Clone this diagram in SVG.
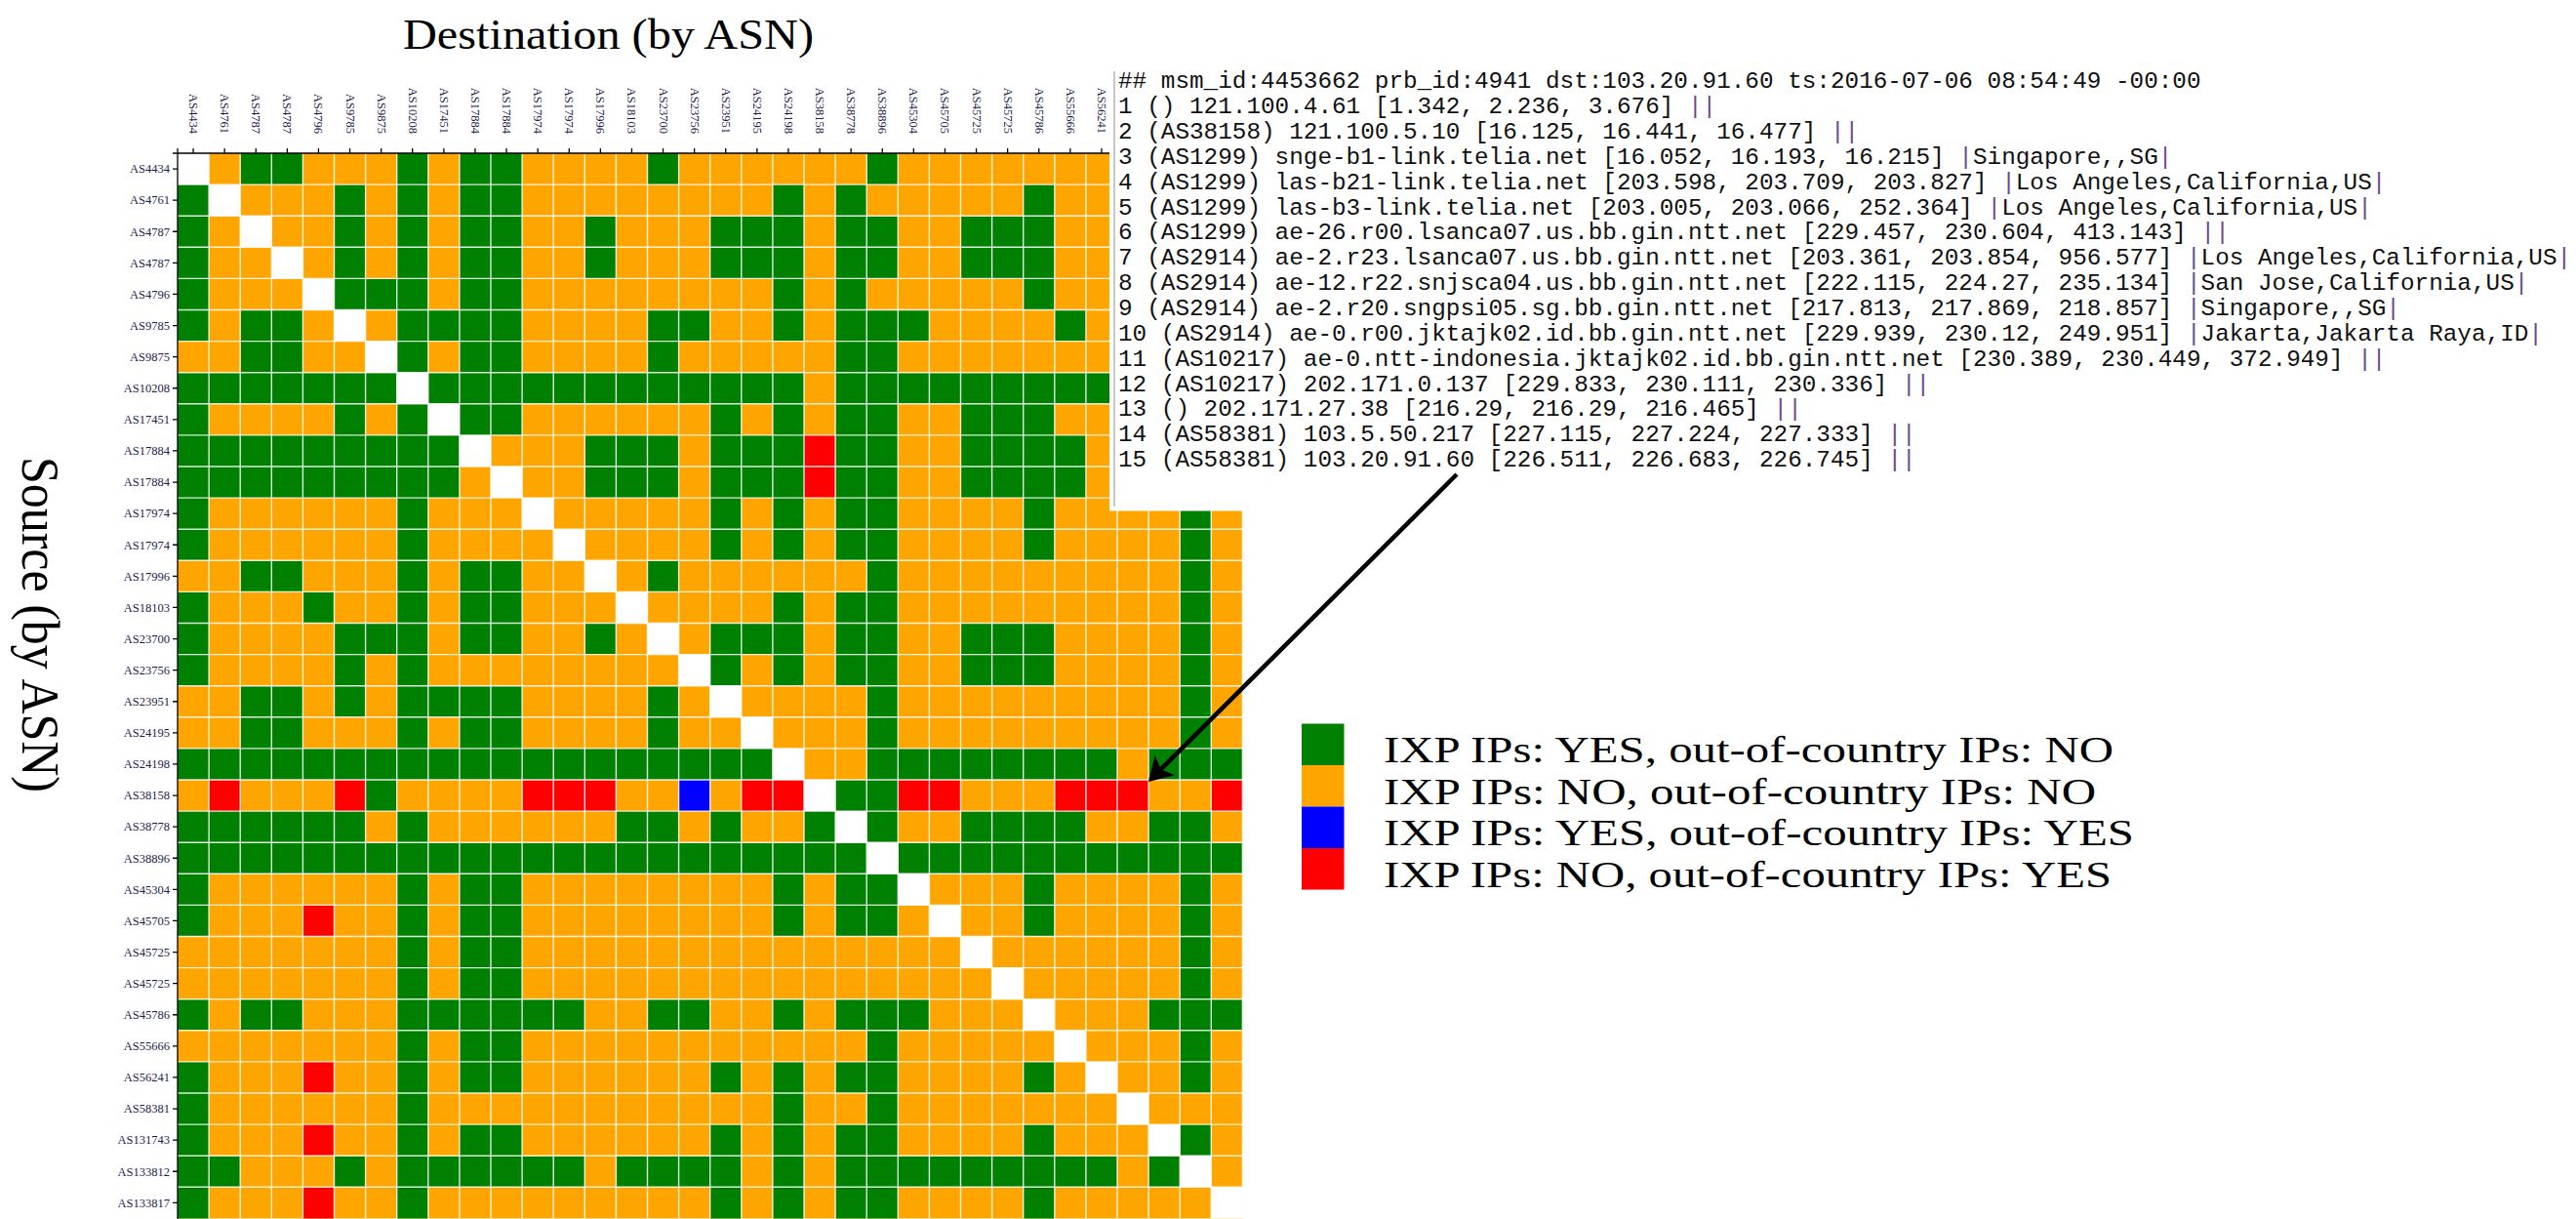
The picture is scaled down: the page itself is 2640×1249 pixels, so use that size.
<svg xmlns="http://www.w3.org/2000/svg" width="2640" height="1249" viewBox="0 0 2640 1249">
<style>
.title{font-family:"Liberation Serif","Times New Roman",serif;fill:#000}
.lab{font-family:"Liberation Serif","Times New Roman",serif;font-size:12.5px;fill:#1e1e50}
.mono{font-family:"Liberation Mono","Courier New",monospace;font-size:24.33px;fill:#111}
.bar{fill:#6b4a8e}
.leg{font-family:"Liberation Serif","Times New Roman",serif;font-size:38.4px;fill:#000}
.ax{fill:none;stroke:#000;stroke-width:1.3}
</style>
<defs>
<marker id="ah" markerUnits="userSpaceOnUse" viewBox="0 0 24 29" markerWidth="24" markerHeight="29" refX="9" refY="14.5" orient="auto">
<path d="M0,0 L24,14.5 L0,29 L6,14.5 z" fill="#000"/>
</marker>
</defs>
<rect width="2640" height="1249" fill="#fff"/>

<g id="title-destination"><text class="title" x="413" y="50" font-size="45" textLength="421" lengthAdjust="spacingAndGlyphs">Destination (by ASN)</text></g>
<g id="title-source"><text class="title" transform="translate(23,468) rotate(90)" font-size="55" textLength="344" lengthAdjust="spacingAndGlyphs">Source (by ASN)</text></g>

<g id="cells" transform="translate(182,157) scale(32.1)">
<rect width="34" height="34" fill="#FFA500"/>
<path fill="#008000" d="M2 0h2v1h-2zM7 0h1v1h-1zM9 0h2v1h-2zM15 0h1v1h-1zM22 0h1v1h-1z
M0 1h1v1h-1zM5 1h1v1h-1zM7 1h1v1h-1zM9 1h2v1h-2zM19 1h1v1h-1zM21 1h1v1h-1zM27 1h1v1h-1z
M0 2h1v1h-1zM5 2h1v1h-1zM7 2h1v1h-1zM9 2h2v1h-2zM13 2h1v1h-1zM17 2h3v1h-3zM21 2h2v1h-2zM25 2h3v1h-3z
M0 3h1v1h-1zM5 3h1v1h-1zM7 3h1v1h-1zM9 3h2v1h-2zM13 3h1v1h-1zM17 3h3v1h-3zM21 3h2v1h-2zM25 3h3v1h-3z
M0 4h1v1h-1zM5 4h3v1h-3zM9 4h2v1h-2zM19 4h1v1h-1zM21 4h1v1h-1zM27 4h1v1h-1z
M0 5h1v1h-1zM2 5h2v1h-2zM7 5h4v1h-4zM15 5h2v1h-2zM19 5h1v1h-1zM21 5h3v1h-3zM28 5h1v1h-1z
M2 6h2v1h-2zM7 6h1v1h-1zM9 6h2v1h-2zM15 6h1v1h-1zM21 6h2v1h-2z
M0 7h7v1h-7zM8 7h12v1h-12zM21 7h13v1h-13z
M0 8h1v1h-1zM5 8h1v1h-1zM7 8h1v1h-1zM9 8h2v1h-2zM17 8h1v1h-1zM19 8h1v1h-1zM21 8h2v1h-2zM25 8h3v1h-3z
M0 9h9v1h-9zM13 9h3v1h-3zM17 9h3v1h-3zM21 9h2v1h-2zM25 9h4v1h-4z
M0 10h9v1h-9zM13 10h3v1h-3zM17 10h3v1h-3zM21 10h2v1h-2zM25 10h4v1h-4z
M0 11h1v1h-1zM7 11h1v1h-1zM17 11h1v1h-1zM19 11h1v1h-1zM21 11h2v1h-2zM27 11h1v1h-1zM32 11h1v1h-1z
M0 12h1v1h-1zM7 12h1v1h-1zM17 12h1v1h-1zM19 12h1v1h-1zM21 12h2v1h-2zM27 12h1v1h-1zM32 12h1v1h-1z
M2 13h2v1h-2zM7 13h1v1h-1zM9 13h2v1h-2zM15 13h1v1h-1zM22 13h1v1h-1zM32 13h1v1h-1z
M0 14h1v1h-1zM4 14h1v1h-1zM7 14h1v1h-1zM9 14h2v1h-2zM19 14h1v1h-1zM21 14h2v1h-2zM32 14h1v1h-1z
M0 15h1v1h-1zM5 15h3v1h-3zM9 15h2v1h-2zM13 15h1v1h-1zM17 15h3v1h-3zM21 15h2v1h-2zM25 15h3v1h-3zM32 15h1v1h-1z
M0 16h1v1h-1zM5 16h1v1h-1zM7 16h1v1h-1zM17 16h1v1h-1zM19 16h1v1h-1zM21 16h2v1h-2zM25 16h3v1h-3zM32 16h1v1h-1z
M2 17h2v1h-2zM5 17h1v1h-1zM7 17h4v1h-4zM15 17h1v1h-1zM22 17h1v1h-1zM32 17h1v1h-1z
M2 18h2v1h-2zM7 18h1v1h-1zM9 18h2v1h-2zM15 18h1v1h-1zM22 18h1v1h-1zM32 18h1v1h-1z
M0 19h19v1h-19zM22 19h8v1h-8zM31 19h3v1h-3z
M6 20h1v1h-1zM21 20h2v1h-2z
M0 21h6v1h-6zM7 21h1v1h-1zM14 21h2v1h-2zM17 21h1v1h-1zM20 21h1v1h-1zM22 21h1v1h-1zM25 21h4v1h-4zM31 21h2v1h-2z
M0 22h22v1h-22zM23 22h11v1h-11z
M0 23h1v1h-1zM7 23h1v1h-1zM9 23h2v1h-2zM19 23h1v1h-1zM21 23h2v1h-2zM27 23h1v1h-1zM32 23h1v1h-1z
M0 24h1v1h-1zM7 24h1v1h-1zM9 24h2v1h-2zM19 24h1v1h-1zM21 24h2v1h-2zM27 24h1v1h-1zM32 24h1v1h-1z
M7 25h1v1h-1zM9 25h2v1h-2zM32 25h1v1h-1z
M7 26h1v1h-1zM9 26h2v1h-2zM32 26h1v1h-1z
M0 27h1v1h-1zM2 27h2v1h-2zM7 27h6v1h-6zM15 27h2v1h-2zM19 27h1v1h-1zM21 27h3v1h-3zM31 27h3v1h-3z
M7 28h1v1h-1zM9 28h2v1h-2zM22 28h1v1h-1zM32 28h1v1h-1z
M0 29h1v1h-1zM7 29h1v1h-1zM9 29h2v1h-2zM17 29h1v1h-1zM19 29h1v1h-1zM21 29h2v1h-2zM27 29h1v1h-1zM32 29h1v1h-1z
M0 30h1v1h-1zM7 30h1v1h-1zM19 30h1v1h-1zM22 30h1v1h-1z
M0 31h1v1h-1zM7 31h1v1h-1zM9 31h2v1h-2zM17 31h1v1h-1zM19 31h1v1h-1zM21 31h2v1h-2zM27 31h1v1h-1zM32 31h1v1h-1z
M0 32h2v1h-2zM5 32h1v1h-1zM7 32h6v1h-6zM14 32h4v1h-4zM19 32h1v1h-1zM21 32h9v1h-9zM31 32h1v1h-1z
M0 33h1v1h-1zM7 33h1v1h-1zM17 33h1v1h-1zM19 33h1v1h-1zM21 33h2v1h-2zM27 33h1v1h-1z"/>
<path fill="#FF0000" d="M20 9h1v1h-1zM20 10h1v1h-1zM1 20h1v1h-1zM5 20h1v1h-1zM11 20h3v1h-3zM18 20h2v1h-2zM23 20h2v1h-2zM28 20h3v1h-3zM33 20h1v1h-1zM4 24h1v1h-1zM4 29h1v1h-1zM4 31h1v1h-1zM4 33h1v1h-1z"/>
<path fill="#0000FF" d="M16 20h1v1h-1z"/>
<path fill="#FFFFFF" d="M0 0h1v1h-1zM1 1h1v1h-1zM2 2h1v1h-1zM3 3h1v1h-1zM4 4h1v1h-1zM5 5h1v1h-1zM6 6h1v1h-1zM7 7h1v1h-1zM8 8h1v1h-1zM9 9h1v1h-1zM10 10h1v1h-1zM11 11h1v1h-1zM12 12h1v1h-1zM13 13h1v1h-1zM14 14h1v1h-1zM15 15h1v1h-1zM16 16h1v1h-1zM17 17h1v1h-1zM18 18h1v1h-1zM19 19h1v1h-1zM20 20h1v1h-1zM21 21h1v1h-1zM22 22h1v1h-1zM23 23h1v1h-1zM24 24h1v1h-1zM25 25h1v1h-1zM26 26h1v1h-1zM27 27h1v1h-1zM28 28h1v1h-1zM29 29h1v1h-1zM30 30h1v1h-1zM31 31h1v1h-1zM32 32h1v1h-1zM33 33h1v1h-1z"/>
<path fill="none" stroke="#fff" stroke-opacity="0.85" stroke-width="1.4" vector-effect="non-scaling-stroke" d="M1 0V34M2 0V34M3 0V34M4 0V34M5 0V34M6 0V34M7 0V34M8 0V34M9 0V34M10 0V34M11 0V34M12 0V34M13 0V34M14 0V34M15 0V34M16 0V34M17 0V34M18 0V34M19 0V34M20 0V34M21 0V34M22 0V34M23 0V34M24 0V34M25 0V34M26 0V34M27 0V34M28 0V34M29 0V34M30 0V34M31 0V34M32 0V34M33 0V34M34 0V34M0 1H34M0 2H34M0 3H34M0 4H34M0 5H34M0 6H34M0 7H34M0 8H34M0 9H34M0 10H34M0 11H34M0 12H34M0 13H34M0 14H34M0 15H34M0 16H34M0 17H34M0 18H34M0 19H34M0 20H34M0 21H34M0 22H34M0 23H34M0 24H34M0 25H34M0 26H34M0 27H34M0 28H34M0 29H34M0 30H34M0 31H34M0 32H34M0 33H34"/>
</g>

<g id="axes" transform="translate(182,157)">
<path class="ax" d="M-5 0H0V1095M0 -5V0H1092"/>
<path class="ax" d="M-5 16.05H0M-5 48.15H0M-5 80.25H0M-5 112.35H0M-5 144.45H0M-5 176.55H0M-5 208.65H0M-5 240.75H0M-5 272.85H0M-5 304.95H0M-5 337.05H0M-5 369.15H0M-5 401.25H0M-5 433.35H0M-5 465.45H0M-5 497.55H0M-5 529.65H0M-5 561.75H0M-5 593.85H0M-5 625.95H0M-5 658.05H0M-5 690.15H0M-5 722.25H0M-5 754.35H0M-5 786.45H0M-5 818.55H0M-5 850.65H0M-5 882.75H0M-5 914.85H0M-5 946.95H0M-5 979.05H0M-5 1011.15H0M-5 1043.25H0M-5 1075.35H0
M16.05 -5V0M48.15 -5V0M80.25 -5V0M112.35 -5V0M144.45 -5V0M176.55 -5V0M208.65 -5V0M240.75 -5V0M272.85 -5V0M304.95 -5V0M337.05 -5V0M369.15 -5V0M401.25 -5V0M433.35 -5V0M465.45 -5V0M497.55 -5V0M529.65 -5V0M561.75 -5V0M593.85 -5V0M625.95 -5V0M658.05 -5V0M690.15 -5V0M722.25 -5V0M754.35 -5V0M786.45 -5V0M818.55 -5V0M850.65 -5V0M882.75 -5V0M914.85 -5V0M946.95 -5V0"/>
</g>

<g id="row-labels" class="lab" text-anchor="end" transform="translate(182,157)">
<text x="-8" y="20.35">AS4434</text>
<text x="-8" y="52.45">AS4761</text>
<text x="-8" y="84.55">AS4787</text>
<text x="-8" y="116.65">AS4787</text>
<text x="-8" y="148.75">AS4796</text>
<text x="-8" y="180.85">AS9785</text>
<text x="-8" y="212.95">AS9875</text>
<text x="-8" y="245.05">AS10208</text>
<text x="-8" y="277.15">AS17451</text>
<text x="-8" y="309.25">AS17884</text>
<text x="-8" y="341.35">AS17884</text>
<text x="-8" y="373.45">AS17974</text>
<text x="-8" y="405.55">AS17974</text>
<text x="-8" y="437.65">AS17996</text>
<text x="-8" y="469.75">AS18103</text>
<text x="-8" y="501.85">AS23700</text>
<text x="-8" y="533.95">AS23756</text>
<text x="-8" y="566.05">AS23951</text>
<text x="-8" y="598.15">AS24195</text>
<text x="-8" y="630.25">AS24198</text>
<text x="-8" y="662.35">AS38158</text>
<text x="-8" y="694.45">AS38778</text>
<text x="-8" y="726.55">AS38896</text>
<text x="-8" y="758.65">AS45304</text>
<text x="-8" y="790.75">AS45705</text>
<text x="-8" y="822.85">AS45725</text>
<text x="-8" y="854.95">AS45725</text>
<text x="-8" y="887.05">AS45786</text>
<text x="-8" y="919.15">AS55666</text>
<text x="-8" y="951.25">AS56241</text>
<text x="-8" y="983.35">AS58381</text>
<text x="-8" y="1015.45">AS131743</text>
<text x="-8" y="1047.55">AS133812</text>
<text x="-8" y="1079.65">AS133817</text>
</g>

<g id="col-labels" class="lab" text-anchor="end" transform="translate(182,157)">
<text transform="translate(12.05,-20) rotate(90)">AS4434</text>
<text transform="translate(44.15,-20) rotate(90)">AS4761</text>
<text transform="translate(76.25,-20) rotate(90)">AS4787</text>
<text transform="translate(108.35,-20) rotate(90)">AS4787</text>
<text transform="translate(140.45,-20) rotate(90)">AS4796</text>
<text transform="translate(172.55,-20) rotate(90)">AS9785</text>
<text transform="translate(204.65,-20) rotate(90)">AS9875</text>
<text transform="translate(236.75,-20) rotate(90)">AS10208</text>
<text transform="translate(268.85,-20) rotate(90)">AS17451</text>
<text transform="translate(300.95,-20) rotate(90)">AS17884</text>
<text transform="translate(333.05,-20) rotate(90)">AS17884</text>
<text transform="translate(365.15,-20) rotate(90)">AS17974</text>
<text transform="translate(397.25,-20) rotate(90)">AS17974</text>
<text transform="translate(429.35,-20) rotate(90)">AS17996</text>
<text transform="translate(461.45,-20) rotate(90)">AS18103</text>
<text transform="translate(493.55,-20) rotate(90)">AS23700</text>
<text transform="translate(525.65,-20) rotate(90)">AS23756</text>
<text transform="translate(557.75,-20) rotate(90)">AS23951</text>
<text transform="translate(589.85,-20) rotate(90)">AS24195</text>
<text transform="translate(621.95,-20) rotate(90)">AS24198</text>
<text transform="translate(654.05,-20) rotate(90)">AS38158</text>
<text transform="translate(686.15,-20) rotate(90)">AS38778</text>
<text transform="translate(718.25,-20) rotate(90)">AS38896</text>
<text transform="translate(750.35,-20) rotate(90)">AS45304</text>
<text transform="translate(782.45,-20) rotate(90)">AS45705</text>
<text transform="translate(814.55,-20) rotate(90)">AS45725</text>
<text transform="translate(846.65,-20) rotate(90)">AS45725</text>
<text transform="translate(878.75,-20) rotate(90)">AS45786</text>
<text transform="translate(910.85,-20) rotate(90)">AS55666</text>
<text transform="translate(942.95,-20) rotate(90)">AS56241</text>
</g>

<g id="traceroute-box">
<rect x="1137" y="72" width="1503" height="451.5" fill="#fff"/>
<line x1="1142" y1="73" x2="1142" y2="519" stroke="#c8c8c8" stroke-width="2"/>
<text class="mono" x="1146" y="90.3">## msm_id:4453662 prb_id:4941 dst:103.20.91.60 ts:2016-07-06 08:54:49 -00:00</text>
<text class="mono" x="1146" y="116.15">1 () 121.100.4.61 [1.342, 2.236, 3.676] <tspan class="bar">||</tspan></text>
<text class="mono" x="1146" y="142">2 (AS38158) 121.100.5.10 [16.125, 16.441, 16.477] <tspan class="bar">||</tspan></text>
<text class="mono" x="1146" y="167.85">3 (AS1299) snge-b1-link.telia.net [16.052, 16.193, 16.215] <tspan class="bar">|</tspan>Singapore,,SG<tspan class="bar">|</tspan></text>
<text class="mono" x="1146" y="193.7">4 (AS1299) las-b21-link.telia.net [203.598, 203.709, 203.827] <tspan class="bar">|</tspan>Los Angeles,California,US<tspan class="bar">|</tspan></text>
<text class="mono" x="1146" y="219.55">5 (AS1299) las-b3-link.telia.net [203.005, 203.066, 252.364] <tspan class="bar">|</tspan>Los Angeles,California,US<tspan class="bar">|</tspan></text>
<text class="mono" x="1146" y="245.4">6 (AS1299) ae-26.r00.lsanca07.us.bb.gin.ntt.net [229.457, 230.604, 413.143] <tspan class="bar">||</tspan></text>
<text class="mono" x="1146" y="271.25">7 (AS2914) ae-2.r23.lsanca07.us.bb.gin.ntt.net [203.361, 203.854, 956.577] <tspan class="bar">|</tspan>Los Angeles,California,US<tspan class="bar">|</tspan></text>
<text class="mono" x="1146" y="297.1">8 (AS2914) ae-12.r22.snjsca04.us.bb.gin.ntt.net [222.115, 224.27, 235.134] <tspan class="bar">|</tspan>San Jose,California,US<tspan class="bar">|</tspan></text>
<text class="mono" x="1146" y="322.95">9 (AS2914) ae-2.r20.sngpsi05.sg.bb.gin.ntt.net [217.813, 217.869, 218.857] <tspan class="bar">|</tspan>Singapore,,SG<tspan class="bar">|</tspan></text>
<text class="mono" x="1146" y="348.8">10 (AS2914) ae-0.r00.jktajk02.id.bb.gin.ntt.net [229.939, 230.12, 249.951] <tspan class="bar">|</tspan>Jakarta,Jakarta Raya,ID<tspan class="bar">|</tspan></text>
<text class="mono" x="1146" y="374.65">11 (AS10217) ae-0.ntt-indonesia.jktajk02.id.bb.gin.ntt.net [230.389, 230.449, 372.949] <tspan class="bar">||</tspan></text>
<text class="mono" x="1146" y="400.5">12 (AS10217) 202.171.0.137 [229.833, 230.111, 230.336] <tspan class="bar">||</tspan></text>
<text class="mono" x="1146" y="426.35">13 () 202.171.27.38 [216.29, 216.29, 216.465] <tspan class="bar">||</tspan></text>
<text class="mono" x="1146" y="452.2">14 (AS58381) 103.5.50.217 [227.115, 227.224, 227.333] <tspan class="bar">||</tspan></text>
<text class="mono" x="1146" y="478.05">15 (AS58381) 103.20.91.60 [226.511, 226.683, 226.745] <tspan class="bar">||</tspan></text>
</g>

<g id="connectors">
<line x1="1493" y1="486" x2="1187.6" y2="790.4" stroke="#000" stroke-width="4.5" marker-end="url(#ah)"/>
</g>

<g id="legend">
<rect x="1334" y="741.5" width="43.5" height="42.5" fill="#008000"/>
<rect x="1334" y="784" width="43.5" height="42.5" fill="#FFA500"/>
<rect x="1334" y="826.5" width="43.5" height="42.5" fill="#0000FF"/>
<rect x="1334" y="869" width="43.5" height="42.5" fill="#FF0000"/>
<text class="leg" x="1418" y="781" textLength="748" lengthAdjust="spacingAndGlyphs">IXP IPs: YES, out-of-country IPs: NO</text>
<text class="leg" x="1418" y="823.5" textLength="730" lengthAdjust="spacingAndGlyphs">IXP IPs: NO, out-of-country IPs: NO</text>
<text class="leg" x="1418" y="866" textLength="769" lengthAdjust="spacingAndGlyphs">IXP IPs: YES, out-of-country IPs: YES</text>
<text class="leg" x="1418" y="908.5" textLength="746" lengthAdjust="spacingAndGlyphs">IXP IPs: NO, out-of-country IPs: YES</text>
</g>
</svg>
